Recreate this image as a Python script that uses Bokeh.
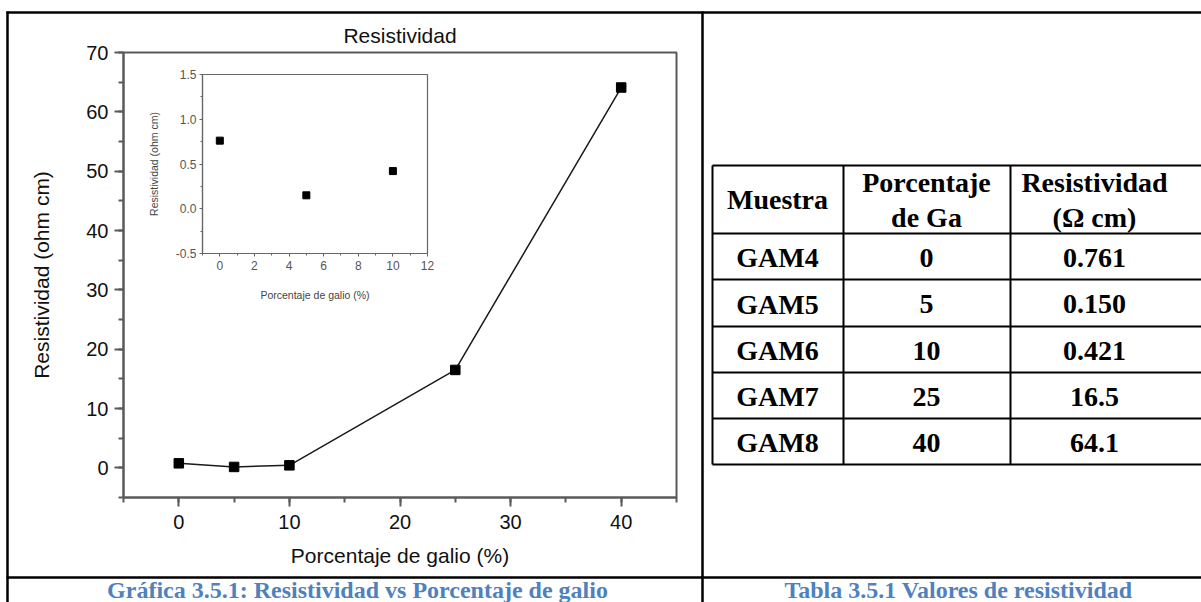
from bokeh.plotting import figure
from bokeh.models import Range1d, SingleIntervalTicker, PrintfTickFormatter
from bokeh.core.properties import value
from bokeh.embed import file_html
from bokeh.resources import INLINE

# ---- data -------------------------------------------------------------
samples = ["GAM4", "GAM5", "GAM6", "GAM7", "GAM8"]
ga_pct = [0, 5, 10, 25, 40]                       # Porcentaje de Ga
resistivity = [0.761, 0.150, 0.421, 16.5, 64.1]   # Resistividad (ohm cm)

header_lines = [["Muestra"], ["Porcentaje", "de Ga"], ["Resistividad", "(Ω cm)"]]
caption_left = "Gráfica 3.5.1: Resistividad vs Porcentaje de galio"
caption_right = "Tabla 3.5.1 Valores de resistividad"

INSET_MAX_PCT = 12


def fmt_res(v):
    return f"{v:.3f}" if v < 1 else f"{v:.1f}"


def place(left, top):
    return {"position": "absolute", "left": f"{left}px", "top": f"{top}px"}


SANS = "Liberation Sans"
SERIF = "Liberation Serif"
W, H = 1201, 602

# ---- page background: cell borders, table and captions ------------------
bg = figure(width=W, height=H, x_range=Range1d(0, W), y_range=Range1d(H, 0),
            toolbar_location=None, output_backend="svg", min_border=0,
            x_axis_location=None, y_axis_location=None, styles=place(0, 0))
bg.grid.visible = False
bg.outline_line_color = None
bg.background_fill_color = "white"
bg.border_fill_color = "white"

# outer cell borders
bg.segment(x0=[7, 6, 702, 6], y0=[11, 12, 11, 577],
           x1=[7, W, 702, W], y1=[H, 12, H, 577],
           line_color="black", line_width=2.5)

# table grid
tx = [712, 843, 1010, W]
ty = [165, 233, 279, 326, 372, 418, 464]
bg.segment(x0=[tx[0]] * len(ty), y0=ty, x1=[tx[-1]] * len(ty), y1=ty,
           line_color="black", line_width=2)
bg.segment(x0=tx[:3], y0=[ty[0]] * 3, x1=tx[:3], y1=[ty[-1]] * 3,
           line_color="black", line_width=2)

col_cx = [777, 926, 1094]
hx, hy, ht = [], [], []
head_mid = (ty[0] + ty[1]) / 2
for cx, lines in zip(col_cx, header_lines):
    n = len(lines)
    for i, t in enumerate(lines):
        hx.append(cx)
        hy.append(head_mid + (i - (n - 1) / 2) * 35)
        ht.append(t)

row_mid = [(ty[i] + ty[i + 1]) / 2 + 1 for i in range(1, len(ty) - 1)]
for r, (s, g, v) in enumerate(zip(samples, ga_pct, resistivity)):
    for cx, t in zip(col_cx, [s, str(g), fmt_res(v)]):
        hx.append(cx)
        hy.append(row_mid[r])
        ht.append(t)

bg.text(x=hx, y=hy, text=ht, text_align="center", text_baseline="middle",
        text_font=value(SERIF), text_font_style="bold", text_font_size="28px",
        text_color="black")

bg.text(x=[357, 958], y=[589, 589], text=[caption_left, caption_right],
        text_align="center", text_baseline="middle",
        text_font=value(SERIF), text_font_style="bold", text_font_size="24px",
        text_color="#4F81BD")

# ---- main chart ---------------------------------------------------------
AX = "#5a5a5a"
main = figure(width=702, height=602, x_range=Range1d(-5, 45), y_range=Range1d(-5, 70),
              toolbar_location=None, output_backend="svg",
              min_border_left=123, min_border_right=26, min_border_top=52,
              min_border_bottom=105, title="Resistividad", styles=place(0, 0))
main.background_fill_color = None
main.border_fill_color = None
main.grid.visible = False
main.outline_line_color = AX
main.outline_line_width = 2

main.title.align = "center"
main.title.text_font = SANS
main.title.text_font_size = "21px"
main.title.text_font_style = "normal"
main.title.text_color = "#111111"
main.title.standoff = 12

for ax in (main.xaxis[0], main.yaxis[0]):
    ax.ticker = SingleIntervalTicker(interval=10, num_minor_ticks=2)
    ax.axis_line_color = AX
    ax.axis_line_width = 2
    ax.major_tick_line_color = AX
    ax.major_tick_line_width = 2
    ax.minor_tick_line_color = AX
    ax.minor_tick_line_width = 2
    ax.major_tick_in = 0
    ax.major_tick_out = 9
    ax.minor_tick_in = 0
    ax.minor_tick_out = 5
    ax.major_label_text_font = SANS
    ax.major_label_text_font_size = "20px"
    ax.major_label_text_color = "#111111"
    ax.axis_label_text_font = SANS
    ax.axis_label_text_font_size = "21px"
    ax.axis_label_text_font_style = "normal"
    ax.axis_label_text_color = "#111111"

main.xaxis.axis_label = "Porcentaje de galio (%)"
main.yaxis.axis_label = "Resistividad (ohm cm)"
main.xaxis.major_label_standoff = 8
main.xaxis.axis_label_standoff = 12
main.yaxis.major_label_standoff = 6
main.yaxis.axis_label_standoff = 30

main.line(ga_pct, resistivity, line_color="#1a1a1a", line_width=1.5)
main.scatter(ga_pct, resistivity, marker="square", size=9.5,
             fill_color="black", line_color="black")

# ---- inset: low-gallium points -------------------------------------------
ix = [g for g in ga_pct if g <= INSET_MAX_PCT]
iy = [v for g, v in zip(ga_pct, resistivity) if g <= INSET_MAX_PCT]

IAX = "#666666"
inset = figure(width=300, height=250, x_range=Range1d(-1, 12), y_range=Range1d(-0.5, 1.5),
               toolbar_location=None, output_backend="svg",
               min_border_left=62, min_border_right=13, min_border_top=8,
               min_border_bottom=63, styles=place(140, 66))
inset.background_fill_color = None
inset.border_fill_color = None
inset.grid.visible = False
inset.outline_line_color = IAX
inset.outline_line_width = 1.2

inset.xaxis.ticker = SingleIntervalTicker(interval=2, num_minor_ticks=2)
inset.yaxis.ticker = SingleIntervalTicker(interval=0.5, num_minor_ticks=2)
inset.yaxis.formatter = PrintfTickFormatter(format="%.1f")
for ax in (inset.xaxis[0], inset.yaxis[0]):
    ax.axis_line_color = IAX
    ax.axis_line_width = 1.2
    ax.major_tick_line_color = IAX
    ax.minor_tick_line_color = IAX
    ax.major_tick_in = 0
    ax.major_tick_out = 3
    ax.minor_tick_in = 0
    ax.minor_tick_out = 2
    ax.major_label_text_font = SANS
    ax.major_label_text_font_size = "12px"
    ax.major_label_text_color = "#555555"
    ax.axis_label_text_font = SANS
    ax.axis_label_text_font_size = "10.5px"
    ax.axis_label_text_font_style = "normal"
    ax.axis_label_text_color = "#444444"

inset.xaxis.axis_label = "Porcentaje de galio (%)"
inset.yaxis.axis_label = "Resistividad (ohm cm)"
inset.xaxis.major_label_standoff = 4
inset.xaxis.axis_label_standoff = 16
inset.yaxis.major_label_standoff = 3
inset.yaxis.axis_label_standoff = 13

inset.scatter(ix, iy, marker="square", size=7, fill_color="black", line_color="black")

# three independent roots, stacked by absolute placement
page = [bg, main, inset]

with open("out.html", "w") as f:
    f.write(file_html(page, INLINE))
